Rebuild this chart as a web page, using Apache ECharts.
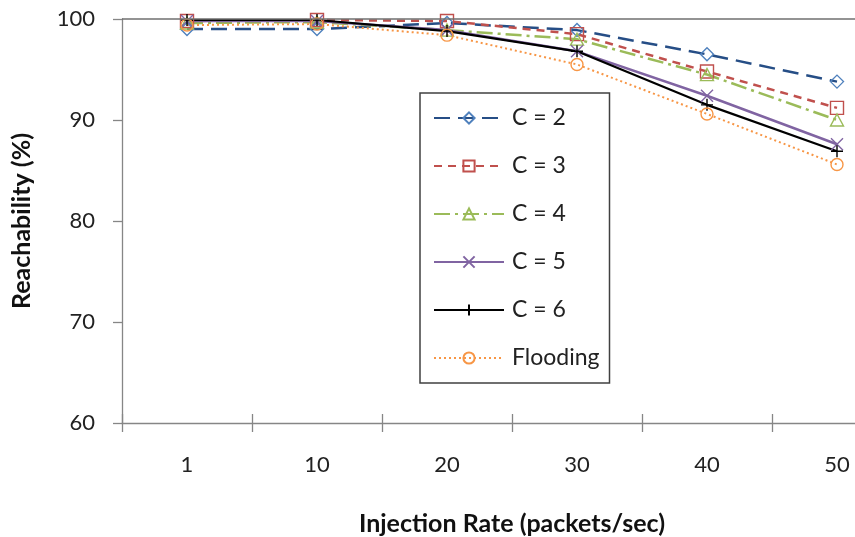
<!DOCTYPE html>
<html>
<head>
<meta charset="utf-8">
<script src="https://cdn.jsdelivr.net/npm/echarts@6/dist/echarts.min.js"></script>
<style>html,body{margin:0;padding:0;background:#fff;overflow:hidden}#c{width:855px;height:537px}</style>
</head>
<body>
<div id="c"></div>
<script>
const categories = ['1', '10', '20', '30', '40', '50'];
const yTicks = [60, 70, 80, 90, 100];
const seriesNames = ['C = 2', 'C = 3', 'C = 4', 'C = 5', 'C = 6', 'Flooding'];
const c2 = [99.0, 99.0, 99.6, 98.9, 96.5, 93.8];
const c3 = [99.8, 99.9, 99.8, 98.5, 94.8, 91.2];
const c4 = [99.6, 99.7, 98.9, 98.0, 94.5, 90.0];
const c5 = [99.8, 99.8, 98.9, 96.8, 92.4, 87.6];
const c6 = [99.9, 99.9, 98.8, 96.8, 91.5, 86.9];
const flooding = [99.4, 99.5, 98.4, 95.5, 90.6, 85.6];

const FONT = 'Lato, "Open Sans", sans-serif';
const chart = echarts.init(document.getElementById('c'), null, {renderer: 'canvas', width: 855, height: 537});

function mk(name, data, lineColor, markColor, dash, symbol, size, width) {
  return {
    name: name, type: 'line', data: data,
    symbol: symbol, symbolSize: size,
    showAllSymbol: true,
    lineStyle: {color: lineColor, width: width, type: dash, cap: 'butt'},
    itemStyle: {color: 'rgba(255,255,255,0)', borderColor: markColor, borderWidth: 1.4},
    emphasis: {disabled: true},
    animation: false
  };
}

const series = [
  mk(seriesNames[0], c2, '#264E86', '#4F81BD', [16, 8], 'diamond', [13, 13], 2.5),
  mk(seriesNames[1], c3, '#C0504D', '#C0504D', [8, 6], 'rect', [13, 13], 2.5),
  mk(seriesNames[2], c4, '#9BBB59', '#9BBB59', [16, 5, 3, 5], 'triangle', [13, 12], 2.5),
  mk(seriesNames[3], c5, '#8064A2', '#8064A2', 'solid', 'path://M0,0L10,10M10,0L0,10', [12, 12], 2.5),
  mk(seriesNames[4], c6, '#000000', '#000000', 'solid', 'path://M5,0L5,10M0,5L10,5', [12, 12], 2.2),
  mk(seriesNames[5], flooding, '#F79646', '#F79646', [2, 3], 'circle', [12, 12], 2)
];
series[0].markLine = {
  silent: true, symbol: ['none', 'none'], label: {show: false},
  lineStyle: {color: '#6f6f6f', type: 'solid', width: 1.6},
  data: [{yAxis: 100}], animation: false
};

chart.setOption({
  animation: false,
  backgroundColor: '#ffffff',
  grid: {left: 122, top: 19, width: 780, height: 404, containLabel: false, outerBoundsMode: 'none'},
  legend: {
    orient: 'vertical', left: 420, top: 93,
    data: seriesNames,
    itemWidth: 70, itemHeight: 14, itemGap: 24,
    padding: [13, 10, 13, 13],
    borderColor: '#404040', borderWidth: 1.5,
    backgroundColor: '#ffffff',
    textStyle: {fontFamily: FONT, fontSize: 23, color: '#222', lineHeight: 24, padding: [0, 0, 0, 3]},
    selectedMode: false
  },
  xAxis: [{
    type: 'category', data: categories, boundaryGap: true,
    axisLine: {lineStyle: {color: '#868686', width: 1.3}},
    axisTick: {show: true, length: 9, lineStyle: {color: '#868686', width: 1.3}},
    axisLabel: {fontFamily: FONT, fontSize: 22, color: '#222', margin: 31},
    name: 'Injection Rate (packets/sec)', nameLocation: 'middle', nameGap: 88,
    nameTextStyle: {fontFamily: FONT, fontSize: 25, fontWeight: 'bold', color: '#111'}
  }, {
    type: 'category', data: categories, boundaryGap: true, position: 'bottom',
    axisLine: {show: false},
    axisTick: {show: true, inside: true, length: 9, lineStyle: {color: '#868686', width: 1.3}},
    axisLabel: {show: false}
  }],
  yAxis: {
    type: 'value', min: yTicks[0], max: yTicks[yTicks.length - 1], interval: 10,
    axisLine: {show: true, lineStyle: {color: '#868686', width: 1.3}},
    axisTick: {show: true, length: 9, lineStyle: {color: '#868686', width: 1.3}},
    splitLine: {show: false},
    axisLabel: {fontFamily: FONT, fontSize: 22, color: '#222', margin: 27},
    name: 'Reachability (%)', nameLocation: 'middle', nameGap: 88,
    nameTextStyle: {fontFamily: FONT, fontSize: 25, fontWeight: 'bold', color: '#111'}
  },
  series: series
});
</script>
</body>
</html>
